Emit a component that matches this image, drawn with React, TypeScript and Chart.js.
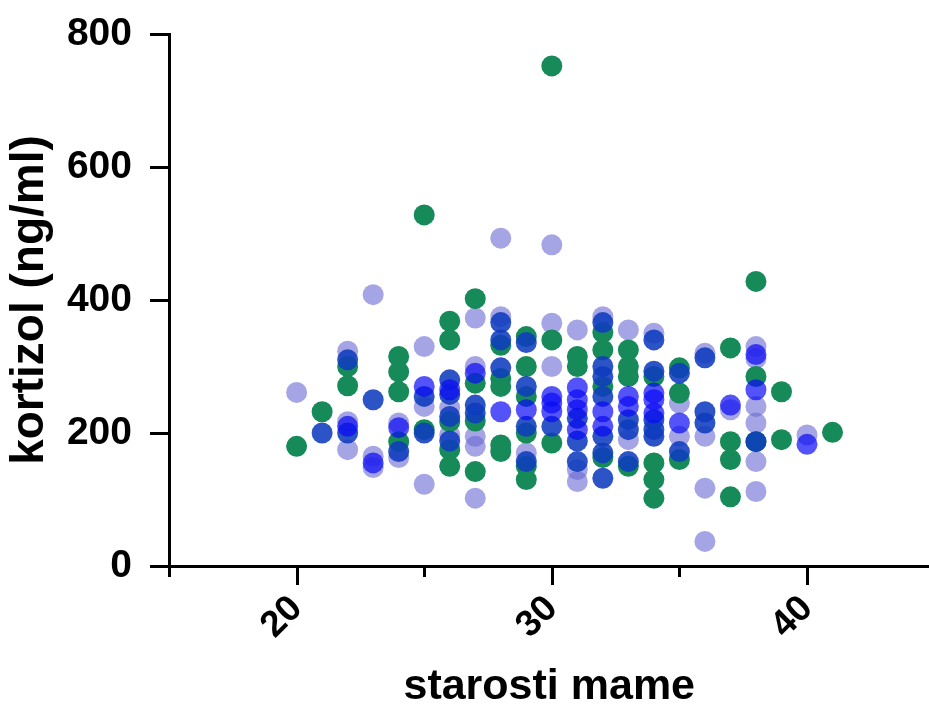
import React, { useEffect, useRef } from 'react';
import { Chart, registerables } from 'chart.js';

Chart.register(...registerables);

// Light lavender series
const lightAges = [
  20, 22, 22, 22, 23, 23, 23, 24, 24, 25, 25, 25, 26, 26, 27, 27, 27, 27, 27,
  28, 28, 29, 30, 30, 30, 31, 31, 31, 32, 33, 33, 34, 35, 35, 36, 36, 36, 36,
  37, 38, 38, 38, 38, 38, 38, 40,
];
const lightValues = [
  261, 323, 217, 175, 408, 165, 148, 215, 163, 330, 240, 123, 238, 197, 373, 300, 195, 180, 102,
  493, 375, 170, 483, 365, 300, 355, 145, 127, 375, 355, 190, 350, 245, 195, 320, 195, 117, 37,
  235, 330, 312, 240, 215, 157, 112, 197,
];

// Green series
const greenAges = [
  20, 21, 22, 22, 24, 24, 24, 24, 25, 25, 26, 26, 26, 26, 26, 27, 27, 27, 27,
  28, 28, 28, 28, 28, 29, 29, 29, 29, 29, 29, 30, 30, 30, 31, 31, 32, 32, 32, 32,
  33, 33, 33, 33, 34, 34, 34, 34, 35, 35, 35, 37, 37, 37, 37, 38, 38, 38, 39, 39, 41,
];
const greenValues = [
  180, 232, 300, 271, 315, 292, 262, 187, 528, 205, 368, 340, 217, 175, 150, 402, 275, 218, 142,
  332, 282, 270, 182, 172, 345, 300, 255, 200, 150, 130, 752, 340, 185, 315, 300, 351, 325, 270, 163,
  325, 300, 285, 150, 285, 155, 130, 102, 298, 260, 160, 328, 187, 160, 104, 428, 285, 187, 262, 190, 201,
];

// Dark blue series
const darkAges = [
  21, 22, 22, 23, 24, 25, 25, 26, 26, 26, 26, 27, 27, 28, 28, 28, 29, 29, 29, 29,
  30, 31, 31, 31, 32, 32, 32, 32, 32, 32, 32, 33, 33, 33, 34, 34, 34, 34, 34,
  35, 35, 36, 36, 36, 38,
];
const darkValues = [
  200, 310, 200, 250, 172, 255, 200, 280, 258, 225, 188, 242, 230, 366, 340, 298, 336, 270, 210, 157,
  210, 222, 188, 157, 366, 300, 285, 255, 195, 170, 132, 220, 205, 157, 340, 293, 220, 205, 195,
  290, 172, 313, 232, 215, 187,
];

// Bright blue series
const brightAges = [
  22, 23, 24, 25, 26, 27, 28, 29, 30, 30, 30, 31, 31, 31, 31, 32, 32, 33, 33,
  34, 34, 34, 35, 37, 38, 38, 40,
];
const brightValues = [
  210, 155, 208, 270, 265, 290, 232, 235, 255, 245, 232, 268, 250, 235, 205, 232, 210, 255, 240,
  260, 250, 230, 215, 242, 318, 265, 183,
];

const xTickValues = [15, 20, 25, 30, 35, 40];
const yTickValues = [0, 200, 400, 600, 800];

const xTitle = 'starosti mame';
const yTitle = 'kortizol (ng/ml)';

const FONT = "'Liberation Sans', Arial, Helvetica, sans-serif";

const zip = (xs: number[], ys: number[]) => xs.map((x, i) => ({ x, y: ys[i] }));

const xTicksPlugin = {
  id: 'xTicksPlugin',
  afterDraw(chart: any) {
    const sx = chart.scales.x;
    const ctx = chart.ctx;
    const bottom = chart.chartArea.bottom;
    ctx.save();
    ctx.strokeStyle = '#000';
    ctx.lineWidth = 3;
    sx.ticks.forEach((t: any) => {
      const px = Math.round(sx.getPixelForValue(t.value)) + 0.5;
      const len = t.value % 10 === 0 ? 19 : 11;
      ctx.beginPath();
      ctx.moveTo(px, bottom);
      ctx.lineTo(px, bottom + len);
      ctx.stroke();
    });
    ctx.restore();
  },
};

export default function App() {
  const ref = useRef<HTMLCanvasElement | null>(null);

  useEffect(() => {
    if (!ref.current) return;
    const common = { pointRadius: 10.5, pointHoverRadius: 10.5, borderWidth: 0, showLine: false };
    const chart = new Chart(ref.current, {
      type: 'scatter',
      data: {
        datasets: [
          { label: 'bright', data: zip(brightAges, brightValues), backgroundColor: 'rgba(10,10,245,0.7)', order: 0, ...common },
          { label: 'dark', data: zip(darkAges, darkValues), backgroundColor: 'rgba(15,60,190,0.88)', order: 1, ...common },
          { label: 'green', data: zip(greenAges, greenValues), backgroundColor: '#178a5a', order: 2, ...common },
          { label: 'light', data: zip(lightAges, lightValues), backgroundColor: 'rgba(105,105,212,0.6)', order: 3, ...common },
        ],
      },
      options: {
        animation: false,
        responsive: false,
        maintainAspectRatio: false,
        devicePixelRatio: 1,
        layout: { padding: { top: 34, left: 0, right: 0, bottom: 0 } },
        plugins: { legend: { display: false }, tooltip: { enabled: false } },
        scales: {
          x: {
            type: 'linear',
            min: 15,
            max: 44.8,
            afterBuildTicks: (scale: any) => {
              scale.ticks = xTickValues.map((v) => ({ value: v }));
            },
            afterFit: (scale: any) => {
              scale.height = 140;
              scale.paddingLeft = 0;
              scale.paddingRight = 0;
            },
            ticks: {
              autoSkip: false,
              includeBounds: false,
              minRotation: 45,
              maxRotation: 45,
              padding: 2,
              color: '#000',
              font: { family: FONT, size: 37, weight: 'bold' },
              callback: (v: any) => (Number(v) % 10 === 0 ? String(v) : ''),
            },
            grid: {
              drawOnChartArea: false,
              drawTicks: true,
              tickLength: 19,
              tickColor: 'rgba(0,0,0,0)',
            },
            border: { display: true, color: '#000', width: 3 },
            title: {
              display: true,
              text: xTitle,
              color: '#000',
              font: { family: FONT, size: 43, weight: 'bold', lineHeight: 0.86 },
              padding: { top: 0, bottom: 0 },
            },
          },
          y: {
            type: 'linear',
            min: 0,
            max: 800,
            afterBuildTicks: (scale: any) => {
              scale.ticks = yTickValues.map((v) => ({ value: v }));
            },
            afterFit: (scale: any) => {
              scale.width = 169;
              scale.paddingTop = 0;
              scale.paddingBottom = 0;
            },
            ticks: {
              padding: 18,
              color: '#000',
              font: { family: FONT, size: 39, weight: 'bold' },
            },
            grid: {
              drawOnChartArea: false,
              drawTicks: true,
              tickLength: 19,
              tickWidth: 3,
              tickColor: '#000',
            },
            border: { display: true, color: '#000', width: 3 },
            title: {
              display: true,
              text: yTitle,
              color: '#000',
              font: { family: FONT, size: 46, weight: 'bold' },
              padding: { top: 3, bottom: 0 },
            },
          },
        },
      },
      plugins: [xTicksPlugin],
    });
    return () => chart.destroy();
  }, []);

  return (
    <div style={{ position: 'absolute', left: 0, top: 0, width: 929, height: 706, overflow: 'hidden', background: '#fff' }}>
      <canvas ref={ref} width={940} height={706} style={{ display: 'block', width: 940, height: 706 }} />
    </div>
  );
}
